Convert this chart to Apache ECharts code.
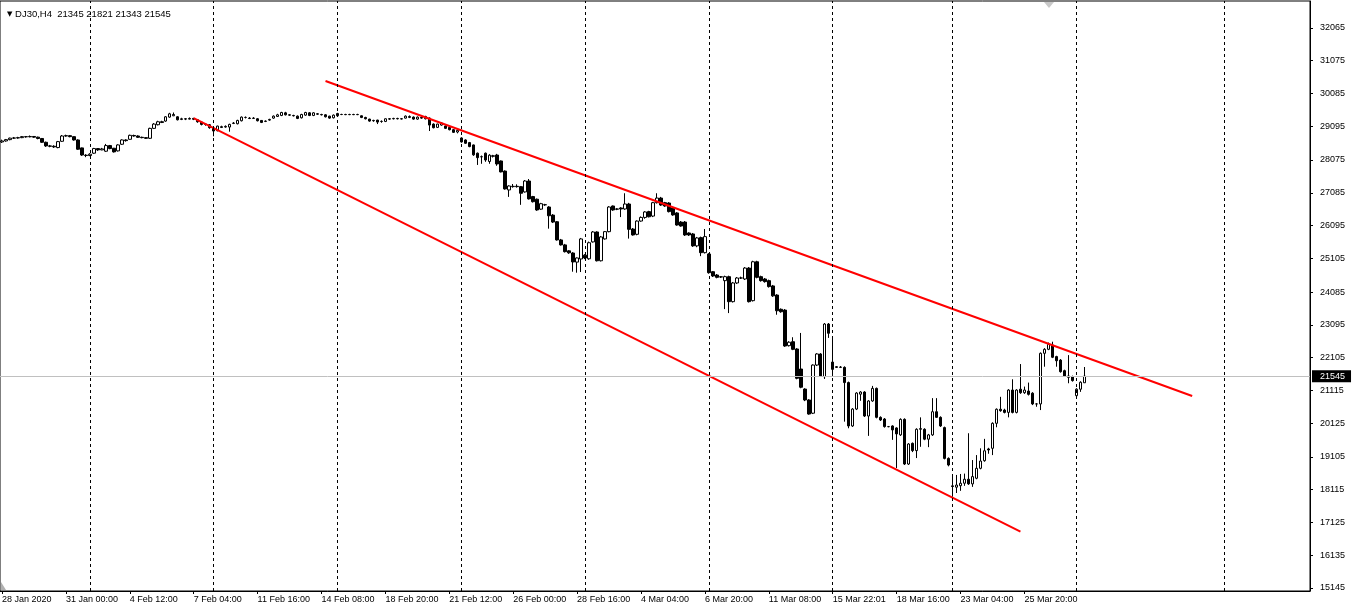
<!DOCTYPE html>
<html><head><meta charset="utf-8">
<script src="https://cdn.jsdelivr.net/npm/echarts@6/dist/echarts.min.js"></script>
<style>html,body{margin:0;padding:0;background:#fff}#c{width:1359px;height:610px}</style>
</head><body><div id="c"></div>
<script>
const symbolName = 'DJ30,H4';
const lastBar = [21345, 21821, 21343, 21545];
const tickLabels = ['28 Jan 2020','31 Jan 00:00','4 Feb 12:00','7 Feb 04:00','11 Feb 16:00','14 Feb 08:00','18 Feb 20:00','21 Feb 12:00','26 Feb 00:00','28 Feb 16:00','4 Mar 04:00','6 Mar 20:00','11 Mar 08:00','15 Mar 22:01','18 Mar 16:00','23 Mar 04:00','25 Mar 20:00'];
const tickStep = 16;
const slotCount = 328;
const weekSeparators = [22, 53, 84, 115, 146, 177, 208, 238, 269, 306];
const yTicks = [32065,31075,30085,29095,28075,27085,26095,25105,24085,23095,22105,21115,20125,19105,18115,17125,16135,15145];
const yMin = 15054, yMax = 32878;
const currentPrice = 21545;
const upperChannel = [[81, 30461], [298, 20945]];
const lowerChannel = [[48, 29341], [255, 16849]];

const opens = [28620,28650,28690,28735,28740,28750,28780,28775,28785,28765,28725,28610,28500,28490,28450,28640,28800,28810,28780,28680,
28440,28220,28210,28280,28420,28380,28340,28510,28430,28350,28550,28680,28700,28815,28800,28760,28750,28730,29030,29140,
29230,29250,29370,29410,29380,29300,29320,29310,29330,29290,29220,29160,29140,29040,28960,29080,29070,29070,29180,29170,
29260,29360,29340,29330,29320,29270,29240,29280,29340,29390,29420,29500,29440,29420,29400,29350,29430,29500,29420,29470,
29450,29440,29400,29350,29410,29450,29450,29445,29450,29445,29410,29360,29310,29270,29280,29240,29240,29320,29320,29330,
29320,29340,29360,29370,29310,29360,29320,29340,29160,29060,29130,29100,29060,28990,28920,28740,28680,28600,28530,28280,
28175,28280,28030,28200,28225,28045,27740,27170,27270,27280,27270,27110,27440,26970,26890,26590,26725,26655,26410,26210,
25660,25510,25330,25265,24990,25085,25200,25090,25600,25900,25030,25690,25910,26685,26595,26625,26595,26745,25990,25830,
26230,26340,26515,26380,26785,26925,26785,26775,26625,26475,26200,26200,25870,25840,25480,25730,25275,25235,24700,24600,
24545,24430,24550,23795,24360,24510,24480,24810,23825,25000,24550,24480,24430,24270,23995,23565,23540,22465,22585,22365,
21760,21155,20825,20425,21880,22215,21530,23120,21970,21830,21810,21810,21350,20040,20550,21000,21065,20340,20795,21175,
20300,20250,20020,20040,19980,19770,20240,18890,19515,19295,19940,19940,19640,19770,20470,20300,19990,19060,18230,18190,
18235,18310,18430,18290,18460,18760,18990,19345,19365,20120,20545,20520,20450,21125,20450,21150,21045,21095,21030,20705,
20705,22235,22355,22485,22135,22030,21710,21550,21530,20955,21150,21345];
const closes = [28650,28690,28735,28740,28750,28780,28775,28785,28765,28725,28610,28500,28490,28470,28630,28800,28810,28780,28680,28400,
28225,28210,28250,28420,28380,28410,28510,28420,28320,28530,28680,28660,28820,28800,28760,28750,28730,29030,29160,29230,
29210,29380,29470,29450,29290,29320,29310,29330,29305,29230,29150,29150,29050,28950,29100,29060,29090,29150,29190,29270,
29370,29360,29330,29340,29260,29210,29250,29300,29400,29440,29510,29440,29430,29410,29330,29450,29510,29420,29500,29460,
29440,29380,29340,29430,29480,29450,29445,29450,29445,29450,29360,29320,29250,29260,29220,29240,29320,29310,29330,29320,
29315,29400,29390,29310,29370,29340,29390,29130,29050,29160,29190,29030,28990,28910,28970,28620,28580,28480,28230,28145,
28170,28075,28220,28190,27955,27715,27200,27290,27280,27270,27070,27440,26900,26815,26565,26755,26720,26390,26200,25660,
25510,25305,25270,24995,25115,25690,25115,25575,25900,25030,25750,25910,26655,26565,26590,26595,26745,25980,25810,26230,
26340,26505,26360,26785,26925,26715,26685,26515,26415,26110,26080,25810,25810,25480,25720,25275,25760,24670,24570,24530,
24540,24550,23795,24360,24510,24510,24810,23795,25000,24530,24430,24400,24250,23970,23520,23490,22455,22570,22355,21480,
21210,20825,20400,21880,22215,21550,23120,22840,21750,21810,21820,21350,20040,20550,21035,21065,20340,20795,21175,20300,
20220,20020,20020,19920,19800,20240,18890,19495,19295,19940,19960,19640,19770,20470,20300,20040,19060,18860,18210,18255,
18310,18430,18290,18510,18760,18980,19290,19315,20120,20545,20500,20450,21125,20450,21125,21045,21125,20995,20705,20705,
22235,22355,22505,22115,22010,21680,21550,21510,21410,21150,21360,21545];
const lows = [28590,28630,28670,28710,28720,28735,28750,28760,28745,28700,28590,28470,28460,28440,28430,28620,28780,28760,28660,28380,
28200,28160,28190,28260,28350,28370,28320,28400,28300,28330,28530,28630,28690,28780,28740,28730,28710,28710,29010,29120,
29190,29230,29350,29400,29270,29280,29280,29300,29280,29200,29120,29110,29020,28790,28940,29040,29050,28930,29160,29150,
29240,29330,29310,29320,29240,29190,29220,29260,29320,29380,29400,29420,29410,29390,29310,29330,29410,29400,29400,29440,
29420,29360,29320,29330,29380,29430,29430,29430,29430,29430,29340,29300,29230,29230,29160,29200,29220,29290,29300,29300,
29300,29330,29340,29290,29290,29320,29300,28950,29030,29040,29110,29010,28970,28890,28880,28600,28560,28460,28200,27925,
27960,28020,27960,28150,27900,27700,27180,26960,27240,27240,26720,27090,26880,26790,26540,26570,26690,26000,26170,25640,
25490,25280,25240,24700,24670,24690,25080,25060,25580,25010,25010,25670,25890,26540,26560,26350,26570,25700,25790,25800,
26210,26300,26340,26350,26760,26690,26660,26490,26390,26090,26060,25780,25780,25450,25440,25170,25250,24640,24540,24500,
24510,23570,23450,23770,24330,24480,24450,23770,23800,24500,24400,24370,24220,23940,23400,23460,22430,22440,22330,21450,
21180,20790,20380,20400,21850,21520,21460,22700,21550,21790,21790,20170,19970,20010,20520,20800,20310,19740,20770,20270,
20190,19990,20000,19620,18770,19740,18860,18860,19250,19070,19410,19610,19400,19740,20280,20010,19030,18820,17900,18015,
18080,18230,18260,18200,18430,18730,18960,19200,19160,20000,20470,20420,20300,20420,20420,21010,21010,20960,20670,20620,
20520,21830,22330,22090,21830,21650,21520,21330,21380,20930,21070,21343];
const highs = [28690,28710,28750,28770,28775,28800,28800,28815,28800,28780,28740,28630,28530,28520,28650,28830,28840,28830,28790,28700,
28450,28250,28280,28440,28430,28440,28560,28530,28440,28550,28700,28700,28840,28840,28820,28780,28760,29050,29190,29260,
29260,29400,29500,29510,29400,29350,29340,29360,29350,29310,29240,29180,29160,29060,29110,29110,29120,29170,29220,29290,
29390,29390,29370,29370,29340,29280,29270,29320,29420,29470,29530,29530,29460,29440,29420,29470,29530,29520,29520,29490,
29470,29460,29410,29450,29500,29470,29470,29470,29470,29470,29420,29380,29320,29290,29290,29270,29330,29340,29350,29350,
29340,29420,29420,29390,29390,29380,29410,29360,29180,29170,29220,29120,29080,29010,28990,28760,28700,28620,28540,28300,
28210,28300,28250,28230,28260,28060,27760,27310,27350,27340,27290,27470,27500,26990,26910,26780,26750,26680,26440,26230,
25690,25540,25350,25290,25130,25720,25230,25610,25930,25920,25780,25930,26680,26700,26620,26650,27070,26780,26020,26250,
26370,26530,26540,26810,27070,26960,26810,26800,26650,26500,26230,26230,25890,25870,25750,25760,25990,25260,24720,24630,
24570,24580,24580,24390,24540,24550,24840,24840,25030,25030,24580,24510,24460,24300,24020,23590,23570,22600,22720,22390,
22850,21180,20850,21900,22240,22240,23150,23150,22690,21850,21850,21840,21380,20580,21060,21090,21090,20820,21250,21200,
20330,20280,20040,20060,20000,20270,20270,19520,19540,19970,20300,19970,19800,20880,20880,20330,20020,19090,18510,18560,
18590,18600,19820,19010,19160,19365,19650,19380,20150,20570,20920,20560,21150,21450,21150,21910,21230,21350,21060,20730,
22260,22390,22560,22585,22160,22060,21740,22180,21560,21180,21390,21821];

const slots = Array.from({length: slotCount}, (_, i) => String(i));
const candles = opens.map((o, i) => [o, closes[i], lows[i], highs[i]]);
const isTick = (i) => i % tickStep === 0 && i / tickStep < tickLabels.length;
const font = 'Liberation Sans';

const chart = echarts.init(document.getElementById('c'), null, {renderer: 'canvas'});
chart.setOption({
  animation: false,
  backgroundColor: '#ffffff',
  title: {
    text: '{tri|▼} ' + symbolName + '  ' + lastBar.join(' '),
    left: 2, top: 4,
    textStyle: {fontFamily: font, fontSize: 9.5, fontWeight: 'normal', color: '#000',
      rich: {tri: {fontSize: 7, color: '#000', fontFamily: 'DejaVu Sans'}}}
  },
  grid: {left: 0, right: 49, top: 1, bottom: 19, show: true, borderColor: '#000', borderWidth: 1, outerBoundsMode: 'none', containLabel: false},
  xAxis: {
    type: 'category', data: slots, boundaryGap: true,
    axisLine: {show: true, lineStyle: {color: '#000', width: 1}},
    axisTick: {show: true, alignWithLabel: true, length: 3, interval: (i) => isTick(i), lineStyle: {color: '#000'}},
    axisLabel: {show: true, interval: (i) => isTick(i), formatter: (v) => tickLabels[Number(v) / tickStep] || '',
      align: 'left', margin: 4, fontSize: 9, fontFamily: font, color: '#000'},
    splitLine: {show: false}
  },
  yAxis: {
    type: 'value', position: 'right', min: yMin, max: yMax, scale: true,
    axisLine: {show: true, lineStyle: {color: '#000', width: 1}},
    axisTick: {show: true, length: 3, customValues: yTicks, lineStyle: {color: '#000'}},
    axisLabel: {show: true, customValues: yTicks, formatter: (v) => String(v), margin: 10, fontSize: 9, fontFamily: font, color: '#000'},
    splitLine: {show: false}
  },
  graphic: [
    {type: 'polygon', shape: {points: [[1044, 2], [1054, 2], [1049, 8]]}, style: {fill: '#c8c8c8'}, silent: true},
    {type: 'polygon', shape: {points: [[1, 582], [1, 590], [6, 590]]}, style: {fill: '#b0b0b0'}, silent: true}
  ],
  series: [
    {
      name: 'separators', type: 'line', data: [], z: 1, silent: true,
      markLine: {silent: true, symbol: ['none', 'none'], animation: false,
        label: {show: false},
        lineStyle: {color: '#000', width: 1, type: [3, 3]},
        data: weekSeparators.map((s) => ({xAxis: s}))}
    },
    {
      name: 'DJ30', type: 'candlestick', data: candles, barWidth: 3, z: 2,
      itemStyle: {color: '#ffffff', color0: '#000000', borderColor: '#000000', borderColor0: '#000000', borderWidth: 1},
      markLine: {silent: true, symbol: ['none', 'none'], animation: false,
        lineStyle: {color: '#c0c0c0', width: 1, type: 'solid'},
        label: {show: true, position: 'end', distance: 2, formatter: String(currentPrice), color: '#fff', backgroundColor: '#000',
          padding: [2, 6, 1, 8], fontSize: 9, fontFamily: font},
        data: [{yAxis: currentPrice}]}
    },
    {name: 'upper', type: 'line', data: upperChannel, symbol: 'none', z: 3, silent: true, lineStyle: {color: '#ff0000', width: 2}},
    {name: 'lower', type: 'line', data: lowerChannel, symbol: 'none', z: 3, silent: true, lineStyle: {color: '#ff0000', width: 2}}
  ]
});
</script>
</body></html>
